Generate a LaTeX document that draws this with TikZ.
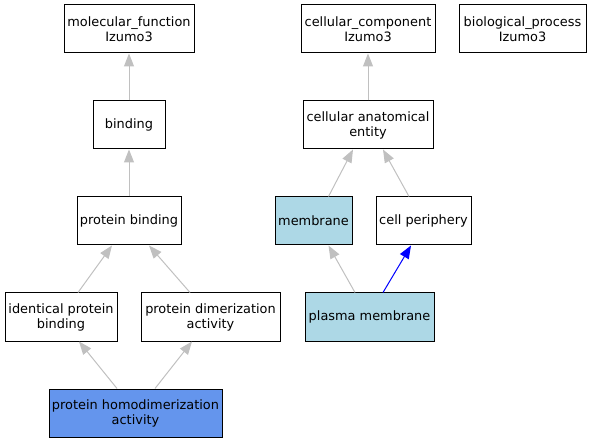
\documentclass[tikz,border=0pt]{standalone}
\usepackage{fontspec}
\setmainfont{DejaVu Sans}
\usetikzlibrary{arrows.meta}
\definecolor{edgegray}{HTML}{C0C0C0}
\definecolor{lblue}{HTML}{ADD8E6}
\definecolor{cblue}{HTML}{6495ED}
\begin{document}
\begin{tikzpicture}[x=1pt,y=1pt,
  term/.style={draw=black, line width=1pt, rectangle, inner sep=0pt, minimum height=48pt,
    align=center, font=\fontsize{12.9}{15}\selectfont},
  isa/.style={draw=edgegray, line width=1pt, -{Triangle[length=13pt,width=10pt]}},
  blueedge/.style={draw=blue, line width=1pt, -{Triangle[length=13pt,width=10pt]}}]
\useasboundingbox (0,0) rectangle (591,-443);
\node[term, minimum width=130pt] (mf) at (129,-29) {molecular\_function\\Izumo3};
\node[term, minimum width=72pt] (bind) at (129,-125) {binding};
\node[term, minimum width=104pt] (pb) at (129,-221) {protein binding};
\node[term, minimum width=112pt] (idb) at (61,-317) {identical protein\\binding};
\node[term, minimum width=139pt] (dim) at (210.5,-317) {protein dimerization\\activity};
\node[term, minimum width=173pt, fill=cblue] (homo) at (135.5,-413) {protein homodimerization\\activity};
\node[term, minimum width=134pt] (cc) at (368,-29) {cellular\_component\\Izumo3};
\node[term, minimum width=127pt] (bp) at (522.5,-29) {biological\_process\\Izumo3};
\node[term, minimum width=130pt] (cae) at (368,-125) {cellular anatomical\\entity};
\node[term, minimum width=77pt, fill=lblue] (mem) at (313.5,-221) {membrane};
\node[term, minimum width=95pt] (cp) at (423.5,-221) {cell periphery};
\node[term, minimum width=129pt, fill=lblue] (pm) at (369.5,-317) {plasma membrane};
\draw[isa] (bind.north) -- (mf.south);
\draw[isa] (pb.north) -- (bind.south);
\draw[isa] ([xshift=17pt]idb.north) -- ([xshift=-17pt]pb.south);
\draw[isa] ([xshift=-20.5pt]dim.north) -- ([xshift=20pt]pb.south);
\draw[isa] ([xshift=-18.5pt]homo.north) -- ([xshift=18pt]idb.south);
\draw[isa] ([xshift=19.5pt]homo.north) -- ([xshift=-18.5pt]dim.south);
\draw[isa] (cae.north) -- (cc.south);
\draw[isa] ([xshift=15pt]mem.north) -- ([xshift=-15pt]cae.south);
\draw[isa] ([xshift=-14.5pt]cp.north) -- ([xshift=15pt]cae.south);
\draw[isa] ([xshift=-14.5pt]pm.north) -- ([xshift=15pt]mem.south);
\draw[blueedge] ([xshift=13.5pt]pm.north) -- ([xshift=-12.5pt]cp.south);
\end{tikzpicture}
\end{document}
